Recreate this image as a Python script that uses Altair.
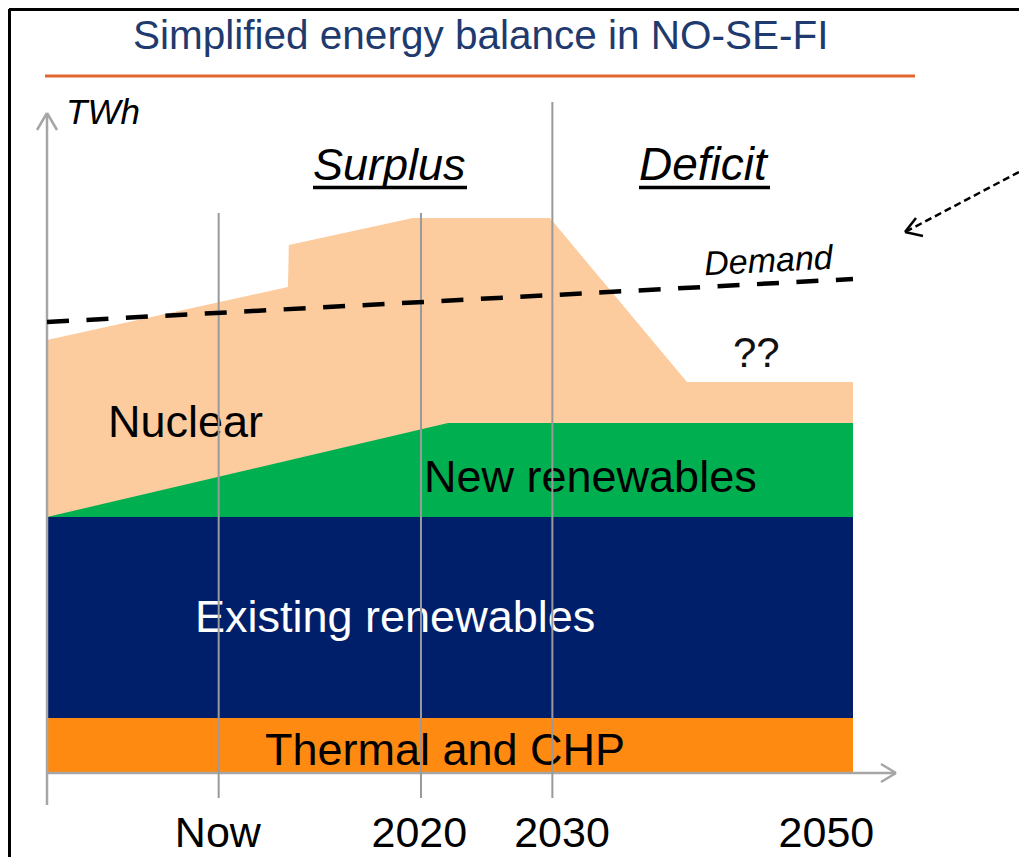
import altair as alt
import pandas as pd

# ---------------- data (schematic TWh levels) ----------------
# time index: 0 = start of chart, 100 = 2050
nuclear_t = [0, 29.9, 30.0, 45.4, 62.4, 79.4, 100]
nuclear_top = [216.5, 243, 264, 277.5, 277.5, 195.5, 195.5]
new_ren_t = [0, 49.75, 100]
new_ren_top = [128, 175, 175]
existing_t = [0, 100]
existing_top = [128, 128]
thermal_t = [0, 100]
thermal_top = [27.5, 27.5]
demand_t = [0, 100]
demand = [225.5, 247]
period_line_t = [21.3, 46.4, 62.7]
period_line_top = [280, 280, 335.5]
period_names = ["Now", "2020", "2030", "2050"]
period_label_t = [21.2, 46.2, 63.9, 96.7]

# ---------------- layout ----------------
W, H = 806, 660
OX, OY = 47, 113  # page position of the plot origin
FONT = "Liberation Sans"
xs = alt.Scale(domain=[0, 100], nice=False, zero=False)
ys = alt.Scale(domain=[0, 330], nice=False, zero=False)
ONE = alt.Data(values=[{"a": 1}])


def area(t, top, color):
    df = pd.DataFrame({"t": t, "top": top})
    return alt.Chart(df).mark_area(color=color, opacity=1, interpolate="linear").encode(
        x=alt.X("t:Q", scale=xs, axis=None),
        y=alt.Y("top:Q", scale=ys, axis=None),
        y2=alt.datum(0),
    )


def txt(s, x, y, size, color="black", italic=False, align="left", angle=None):
    kw = dict(text=s, fontSize=size, color=color, align=align, baseline="alphabetic", font=FONT)
    if italic:
        kw["fontStyle"] = "italic"
    if angle is not None:
        kw["angle"] = angle
    return alt.Chart(ONE).mark_text(**kw).encode(x=alt.value(x - OX), y=alt.value(y - OY))


def seg(x1, y1, x2, y2, color, w, dash=None):
    kw = dict(color=color, strokeWidth=w, strokeCap="butt")
    if dash:
        kw["strokeDash"] = dash
    return alt.Chart(ONE).mark_rule(**kw).encode(
        x=alt.value(x1 - OX), y=alt.value(y1 - OY), x2=alt.value(x2 - OX), y2=alt.value(y2 - OY)
    )


layers = []
# stacked levels, painted back to front
layers.append(area(nuclear_t, nuclear_top, "#FCCB9E"))
layers.append(area(new_ren_t, new_ren_top, "#00B050"))
layers.append(area(existing_t, existing_top, "#001F6B"))
layers.append(area(thermal_t, thermal_top, "#FF8A12"))

# labels inside areas
layers.append(txt("Nuclear", 108, 437, 45))
layers.append(txt("New renewables", 424, 492, 45))
layers.append(txt("Existing renewables", 195, 632, 45, color="white"))
layers.append(txt("Thermal and CHP", 265, 765, 45))

# axes with arrow heads
AX = "#A6A6A6"
layers.append(seg(47, 113, 47, 805, AX, 2.5))
layers.append(seg(47, 113, 37, 130, AX, 2.5))
layers.append(seg(47, 113, 57, 130, AX, 2.5))
layers.append(seg(47, 773, 896, 773, AX, 2.5))
layers.append(seg(896, 773, 881, 764, AX, 2.5))
layers.append(seg(896, 773, 881, 782, AX, 2.5))

# period marker lines
mk = pd.DataFrame({"t": period_line_t, "top": period_line_top})
layers.append(
    alt.Chart(mk).mark_rule(color="#9A9A9A", strokeWidth=2).encode(
        x=alt.X("t:Q", scale=xs, axis=None),
        y=alt.Y("top:Q", scale=ys, axis=None),
        y2=alt.datum(-12.5),
    )
)

# demand line
dm = pd.DataFrame({"t": demand_t, "v": demand})
layers.append(
    alt.Chart(dm).mark_line(color="black", strokeWidth=4.5, strokeDash=[22, 17.5], strokeCap="butt").encode(
        x=alt.X("t:Q", scale=xs, axis=None),
        y=alt.Y("v:Q", scale=ys, axis=None),
    )
)

# period tick labels
pl = pd.DataFrame({"t": period_label_t, "name": period_names})
layers.append(
    alt.Chart(pl).mark_text(fontSize=43, font=FONT, color="black", align="center", baseline="alphabetic").encode(
        x=alt.X("t:Q", scale=xs, axis=None),
        y=alt.value(847 - OY),
        text="name:N",
    )
)

# other annotations
layers.append(txt("Simplified energy balance in NO-SE-FI", 133, 49, 40.5, color="#1F3A6E"))
layers.append(seg(45, 76, 915, 76, "#E2672F", 3))
layers.append(txt("TWh", 66, 124, 35, italic=True))
layers.append(txt("Surplus", 313, 180, 45, italic=True))
layers.append(seg(313, 187.5, 467, 187.5, "black", 3.5))
layers.append(txt("Deficit", 639, 180, 46, italic=True))
layers.append(seg(639, 187.5, 770, 187.5, "black", 3.5))
layers.append(txt("Demand", 769, 272, 34, italic=True, align="center", angle=357))
layers.append(txt("??", 733, 367, 42, color="#111111"))

# dashed pointer arrow at the right
layers.append(seg(1019, 172, 907, 231, "black", 2.5, dash=[7, 4]))
layers.append(seg(905, 232, 916, 218, "black", 2.5))
layers.append(seg(905, 232, 923, 236, "black", 2.5))

# frame
layers.append(seg(9, 9.5, 1019, 9.5, "black", 3))
layers.append(seg(9.5, 9, 9.5, 857, "black", 3))

chart = (
    alt.layer(*layers)
    .properties(
        width=W,
        height=H,
        padding={"left": 39, "top": 105, "right": 166, "bottom": 84},
        autosize=alt.AutoSizeParams(type="none"),
        background="white",
    )
    .configure_view(stroke=None)
)

chart.save("out.html", embed_options={"renderer": "svg", "actions": False})
